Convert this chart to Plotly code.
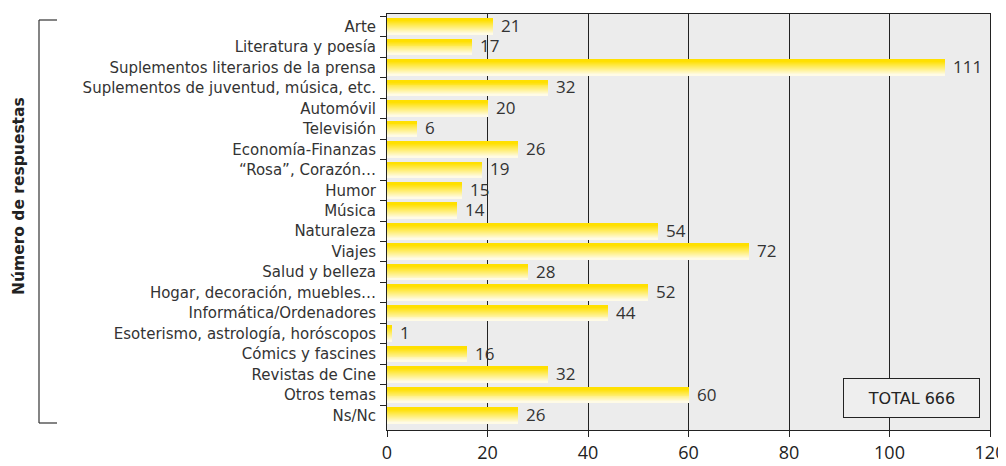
import plotly.graph_objects as go

categories = ["Arte", "Literatura y poesía", "Suplementos literarios de la prensa",
              "Suplementos de juventud, música, etc.", "Automóvil", "Televisión",
              "Economía-Finanzas", "“Rosa”, Corazón…", "Humor", "Música",
              "Naturaleza", "Viajes", "Salud y belleza", "Hogar, decoración, muebles…",
              "Informática/Ordenadores", "Esoterismo, astrología, horóscopos",
              "Cómics y fascines", "Revistas de Cine", "Otros temas", "Ns/Nc"]
values = [21, 17, 111, 32, 20, 6, 26, 19, 15, 14, 54, 72, 28, 52, 44, 1, 16, 32, 60, 26]
x_ticks = [0, 20, 40, 60, 80, 100, 120]
total_label = "TOTAL 666"
axis_title = "Número de respuestas"

OFF = 8  # page body margin
W, H = 1006 - OFF, 466 - OFF
ML, MR, MT, MB = 379, 16, 6, 36
FONT = "DejaVu Sans"
NFONT = "Open Sans"

fig = go.Figure()

# gradient bars: stacked thin overlay stripes, yellow at top fading to cream
n_str = 16
bar_w = 0.76
c_top = (255, 224, 0)
c_bot = (255, 251, 230)
sw = bar_w / n_str
for i in range(n_str):
    t = i / (n_str - 1)
    t2 = max(0.0, (t - 0.12) / 0.88)
    col = tuple(round(c_top[k] + (c_bot[k] - c_top[k]) * t2) for k in range(3))
    fig.add_trace(go.Bar(
        y=categories, x=values, orientation="h",
        width=sw * 1.1, offset=-bar_w / 2 + i * sw,
        marker=dict(color="rgb(%d,%d,%d)" % col, line=dict(width=0)),
        showlegend=False, hoverinfo="skip"))

for c, v in zip(categories, values):
    fig.add_annotation(x=v, y=c, text=str(v), showarrow=False, xanchor="left",
                       xshift=6, yshift=1,
                       font=dict(family=NFONT, size=17, color="#333333"))

pw = W - ML - MR
ph = H - MT - MB

def px2paper_x(px):
    return (px - OFF - ML) / pw

def px2paper_y(py):
    return (H - MB - (py - OFF)) / ph

# bracket
bx, bx2, by1, by2 = 39, 57, 20, 423
for (x0, y0, x1, y1) in [(bx, by1, bx, by2), (bx, by1, bx2, by1), (bx, by2, bx2, by2)]:
    fig.add_shape(type="line", xref="paper", yref="paper",
                  x0=px2paper_x(x0), x1=px2paper_x(x1),
                  y0=px2paper_y(y0), y1=px2paper_y(y1),
                  line=dict(color="#333333", width=1.2))

fig.add_annotation(xref="paper", yref="paper", x=px2paper_x(19), y=px2paper_y(196),
                   xanchor="center", yanchor="middle",
                   text="<b>" + axis_title + "</b>", textangle=-90, showarrow=False,
                   font=dict(family=FONT, size=15.5, color="#222222"))

fig.add_annotation(xref="paper", yref="paper", x=px2paper_x(911), y=px2paper_y(398),
                   xanchor="center", yanchor="middle",
                   text=total_label, showarrow=False, width=133, height=36,
                   bordercolor="#222222", borderwidth=1, bgcolor="#eeeeee",
                   font=dict(family=FONT, size=16, color="#222222"))

fig.update_layout(
    width=W, height=H, barmode="overlay", bargap=0,
    margin=dict(l=ML, r=MR, t=MT, b=MB, autoexpand=False),
    paper_bgcolor="white", plot_bgcolor="#ececec",
    font=dict(family=FONT, color="#333333"),
    xaxis=dict(range=[0, 120], tickvals=x_ticks, showgrid=True, gridcolor="#222222",
               gridwidth=1, zeroline=False, showline=True, linecolor="#222222",
               linewidth=1, mirror=True, ticks="outside", ticklen=6, automargin=False,
               tickcolor="#222222", tickfont=dict(family=NFONT, size=18, color="#222222")),
    yaxis=dict(categoryorder="array", categoryarray=categories, autorange="reversed",
               showline=True, linecolor="#222222", linewidth=1, mirror=True,
               ticks="outside", tickson="boundaries", ticklen=6, tickcolor="#222222",
               automargin=False, showgrid=False, ticklabelstandoff=7,
               tickfont=dict(size=15, color="#333333")),
)

fig.write_html("out.html")
